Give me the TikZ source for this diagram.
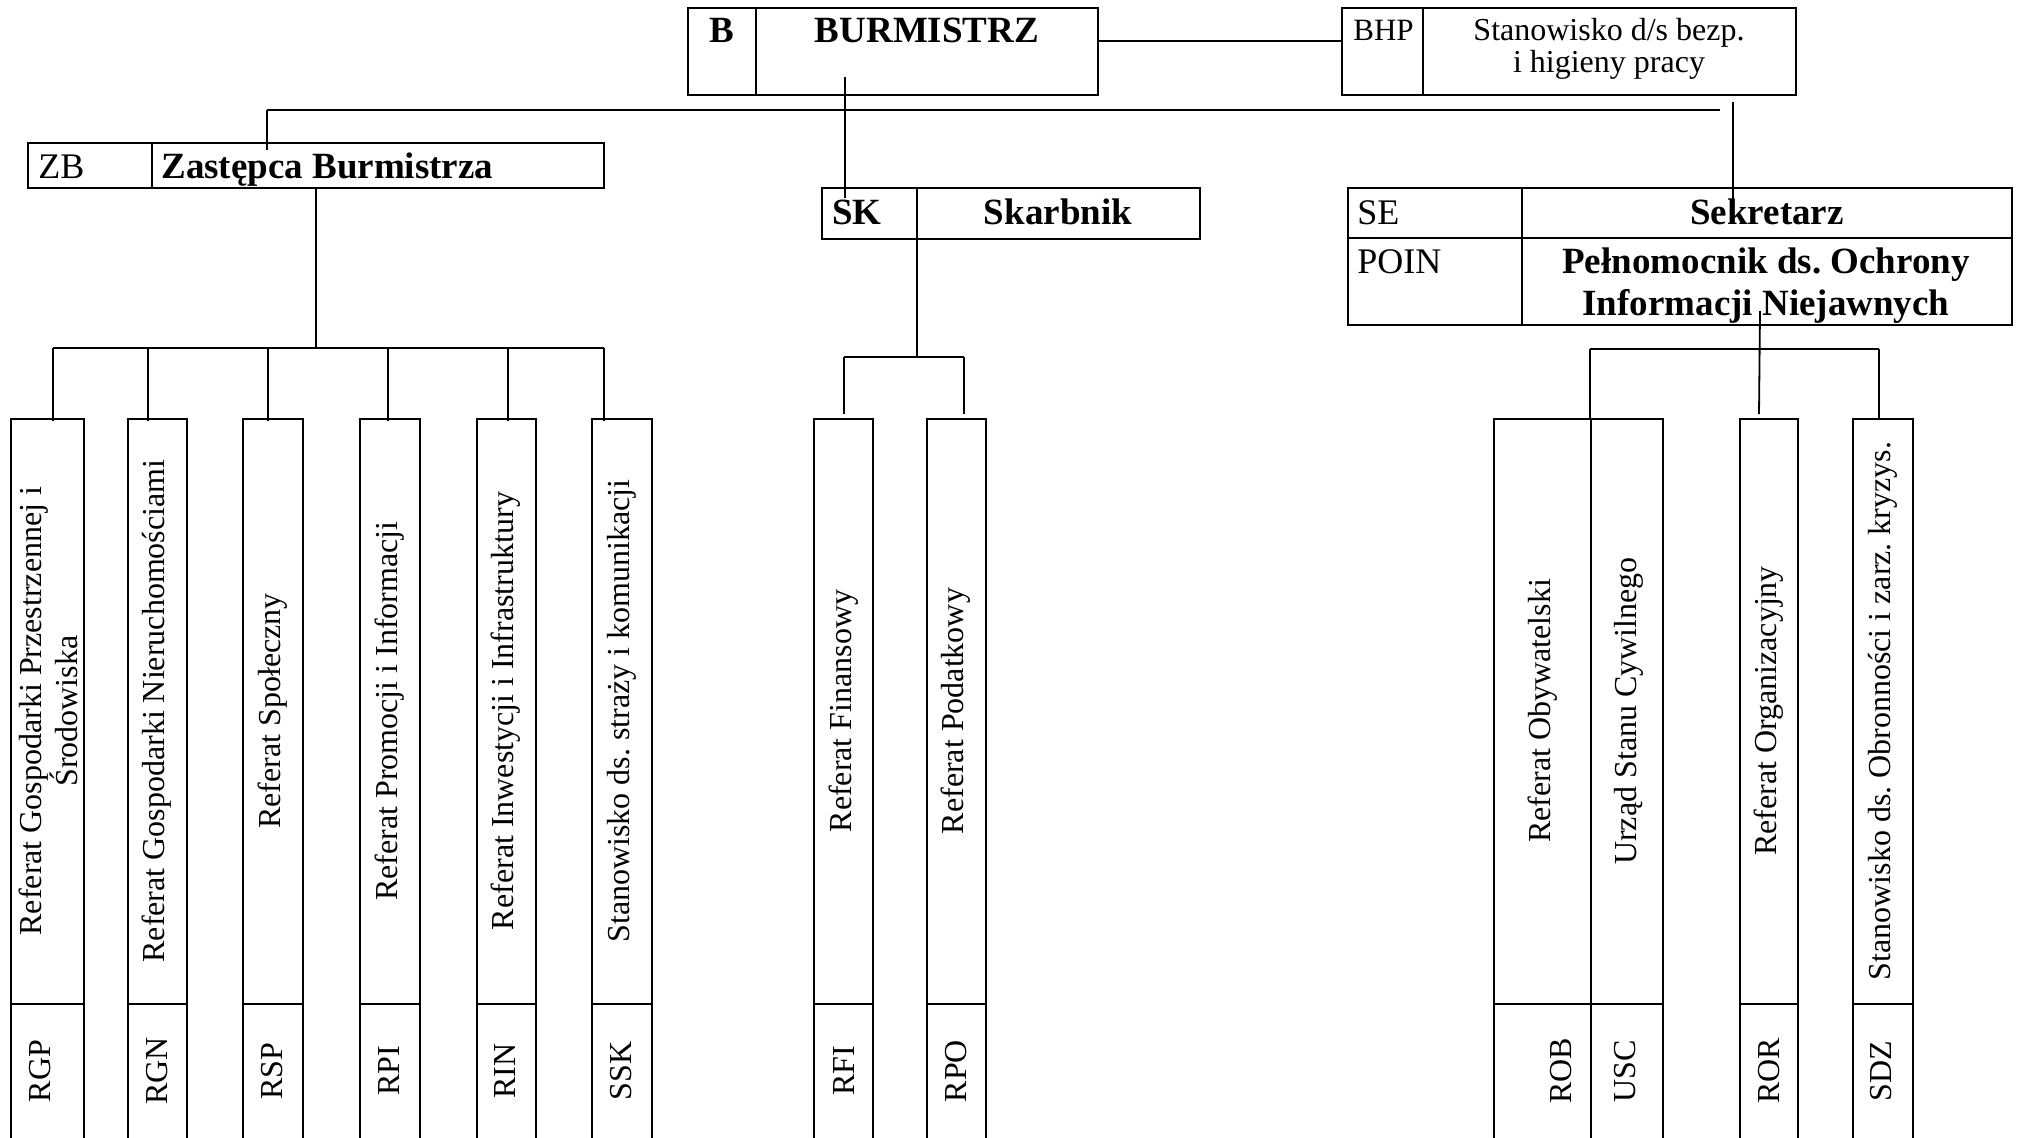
\documentclass[tikz,border=0pt]{standalone}
\usepackage{fontspec}
\setmainfont{Liberation Serif}
\usetikzlibrary{fit}
\frenchspacing
\tikzset{
  box/.style={draw, line width=1.1pt, inner sep=0pt},
  divl/.style={line width=1.1pt},
  conn/.style={line width=0.9pt},
  hb/.style={font=\fontsize{18.5}{20}\selectfont\bfseries, inner sep=0pt},
  hr/.style={font=\fontsize{18}{20}\selectfont, inner sep=0pt},
  sm/.style={font=\fontsize{15.5}{17}\selectfont, inner sep=0pt},
  vt/.style={font=\fontsize{16}{18}\selectfont, rotate=90, inner sep=0pt, align=center},
}
\begin{document}
\begin{tikzpicture}[x=0.5pt,y=-0.5pt]
\useasboundingbox (0,0) rectangle (2017,1137);
\clip (0,0) rectangle (2017,1137);
\fill[white] (0,0) rectangle (2017,1137);

% ---------- top boxes ----------
\node[box, fit={(688,8) (1098,95)}] (B) {};
\draw[divl] (756,8) -- (756,95);
\node[hb, anchor=base] (Bt) at (722,42) {B};
\node[hb, anchor=base] (Bn) at (927,42) {BURMISTRZ};

\node[box, fit={(1342,8) (1796,95)}] (BHP) {};
\draw[divl] (1423,8) -- (1423,95);
\node[sm, anchor=base west] (BHPt) at (1353,40) {BHP};
\node[font=\fontsize{16}{18}\selectfont, inner sep=0pt, anchor=base] (BHPn1) at (1609,40) {Stanowisko d/s bezp.};
\node[font=\fontsize{16}{18}\selectfont, inner sep=0pt, anchor=base] (BHPn2) at (1609,72) {i higieny pracy};

\node[box, fit={(28,143) (604,188)}] (ZB) {};
\draw[divl] (152,143) -- (152,188);
\node[hr, anchor=base west] (ZBt) at (38,178) {ZB};
\node[hb, anchor=base west] (ZBn) at (161,178) {Zastępca Burmistrza};

\node[box, fit={(822,188) (1200,239)}] (SK) {};
\draw[divl] (917,188) -- (917,239);
\node[hb, anchor=base west] (SKt) at (832,224) {SK};
\node[hb, anchor=base] (SKn) at (1058,224) {Skarbnik};

\node[box, fit={(1348,188) (2012,325)}] (SE) {};
\draw[divl] (1348,238) -- (2012,238);
\draw[divl] (1522,188) -- (1522,325);
\node[hr, anchor=base west] (SEt) at (1357,224) {SE};
\node[hb, anchor=base] (SEn) at (1767,224) {Sekretarz};
\node[hr, anchor=base west] (POINt) at (1357,273) {POIN};
\node[hb, anchor=base] (POINn1) at (1766,273) {Pełnomocnik ds. Ochrony};
\node[hb, anchor=base] (POINn2) at (1766,315) {Informacji Niejawnych};

% ---------- bottom boxes ----------
\foreach \nm/\xa/\xb in {RGP/11/84, RGN/128/187, RSP/243/303, RPI/360/420,
    RIN/477/536, SSK/592/652, RFI/814/873, RPO/927/986,
    ROB/1494/1591, USC/1591/1663, ROR/1740/1798, SDZ/1853/1913}{
  \node[box, fit={(\xa,419) (\xb,1170)}] (\nm) {};
  \draw[divl] (\xa,1004) -- (\xb,1004);
}

\node[vt] (RGPn) at (48,711) {Referat Gospodarki Przestrzennej i\\Środowiska};
\node[vt] (RGNn) at (157,711) {Referat Gospodarki Nieruchomościami};
\node[vt] (RSPn) at (273,711) {Referat Społeczny};
\node[vt] (RPIn) at (390,711) {Referat Promocji i Informacji};
\node[vt] (RINn) at (506,711) {Referat Inwestycji i Infrastruktury};
\node[vt] (SSKn) at (622,711) {Stanowisko ds. straży i komunikacji};
\node[vt] (RFIn) at (844,711) {Referat Finansowy};
\node[vt] (RPOn) at (956,711) {Referat Podatkowy};
\node[vt] (ROBn) at (1543,711) {Referat Obywatelski};
\node[vt] (USCn) at (1629,711) {Urząd Stanu Cywilnego};
\node[vt] (RORn) at (1769,711) {Referat Organizacyjny};
\node[vt] (SDZn) at (1883,711) {Stanowisko ds. Obronności i zarz. kryzys.};

\node[vt] (RGPc) at (40,1071) {RGP};
\node[vt] (RGNc) at (157,1071) {RGN};
\node[vt] (RSPc) at (272,1071) {RSP};
\node[vt] (RPIc) at (389,1071) {RPI};
\node[vt] (RINc) at (505,1071) {RIN};
\node[vt] (SSKc) at (621,1071) {SSK};
\node[vt] (RFIc) at (844,1071) {RFI};
\node[vt] (RPOc) at (956,1071) {RPO};
\node[vt] (ROBc) at (1561,1071) {ROB};
\node[vt] (USCc) at (1625,1071) {USC};
\node[vt] (RORc) at (1769,1071) {ROR};
\node[vt] (SDZc) at (1881,1071) {SDZ};

% ---------- connectors ----------
\draw[conn] ([yshift=-17pt]B.north east) -- ([yshift=-17pt]BHP.north west);

\coordinate (busL) at (267,110);
\coordinate (busR) at (1720,110);
\draw[conn, line width=1.3pt] (busL) -- (busR);
\coordinate (zbIn) at (267,150);
\draw[conn] (busL) -- (zbIn);

\coordinate (bIn) at (845,77);
\coordinate (skIn) at (845,198);
\draw[conn] (bIn) -- (skIn);

\coordinate (bhpOut) at (1733,102);
\coordinate (seIn) at (1733,202);
\draw[conn] (bhpOut) -- (seIn);

% Zastepca group
\coordinate (zbBus) at (316,348);
\draw[conn] (ZB.south) -- (zbBus);
\coordinate (zb1) at (53,348);
\coordinate (zb2) at (148,348);
\coordinate (zb3) at (268,348);
\coordinate (zb4) at (388,348);
\coordinate (zb5) at (508,348);
\coordinate (zb6) at (604,348);
\draw[conn] (zb1) -- (zb6);
\draw[conn] (zb1) -- ([yshift=-1.5pt]zb1 |- RGP.north);
\draw[conn] (zb2) -- ([yshift=-1.5pt]zb2 |- RGN.north);
\draw[conn] (zb3) -- ([yshift=-1.5pt]zb3 |- RSP.north);
\draw[conn] (zb4) -- ([yshift=-1.5pt]zb4 |- RPI.north);
\draw[conn] (zb5) -- ([yshift=-1.5pt]zb5 |- RIN.north);
\draw[conn] (zb6) -- ([yshift=-1.5pt]zb6 |- SSK.north);

% Skarbnik group
\coordinate (skBus) at (917,357);
\draw[conn] (skBus |- SK.south) -- (skBus);
\coordinate (sk1) at (844,357);
\coordinate (sk2) at (964,357);
\draw[conn] (sk1) -- (sk2);
\draw[conn] (sk1) -- ([yshift=2pt]sk1 |- RFI.north);
\draw[conn] (sk2) -- ([yshift=2pt]sk2 |- RPO.north);

% Sekretarz group
\coordinate (seOut) at (1760,311);
\coordinate (rorIn) at (1759,414);
\draw[conn] (seOut) -- (rorIn);
\coordinate (se1) at (1590,349);
\coordinate (se2) at (1879,349);
\draw[conn] (se1) -- (se2);
\draw[conn] (se1) -- (se1 |- ROB.north);
\draw[conn] (se2) -- (se2 |- SDZ.north);
\end{tikzpicture}
\end{document}
